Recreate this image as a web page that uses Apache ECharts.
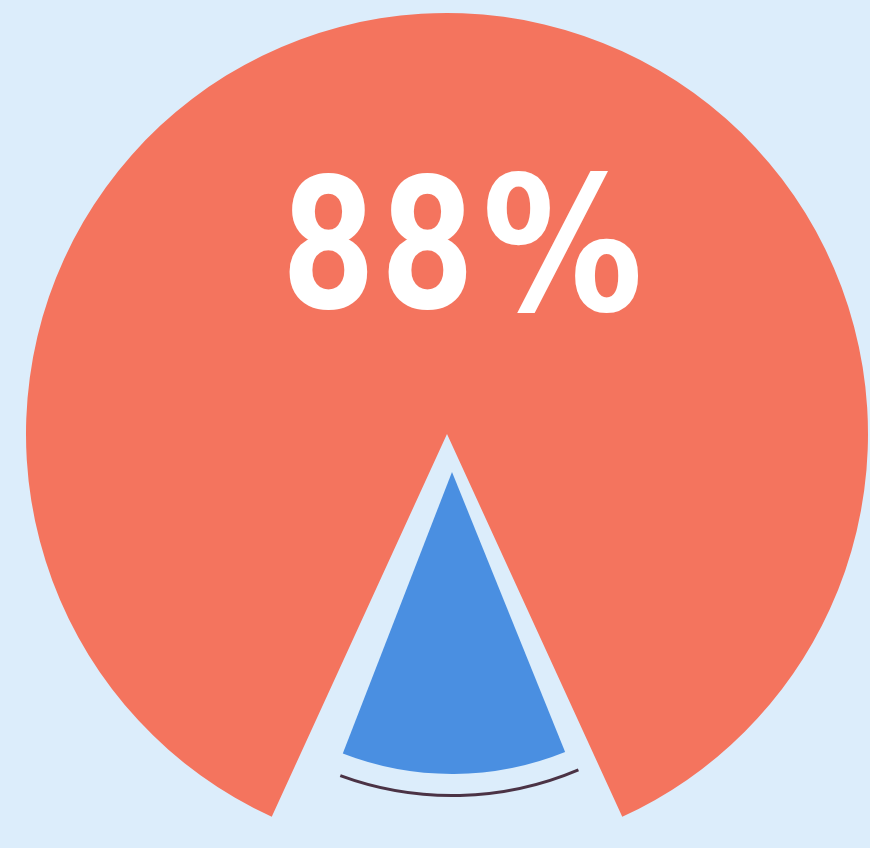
<!DOCTYPE html>
<html>
<head>
<meta charset="utf-8">
<script src="https://cdn.jsdelivr.net/npm/echarts@6/dist/echarts.min.js"></script>
<style>
html,body{margin:0;padding:0;background:#dcedfb;}
#chart{width:870px;height:848px;}
</style>
</head>
<body>
<div id="chart"></div>
<script>
const categories = ['Yes', 'No'];
const shareValues = [88, 12];
const labelNumber = String(shareValues[0]);
const labelUnit = '%';

const chart = echarts.init(document.getElementById('chart'));
const transparent = 'rgba(0,0,0,0)';
const labelRich = labelNumber.split('').map(function (d) { return '{n|' + d + '}'; }).join('') + '{p|' + labelUnit + '}';
const option = {
  backgroundColor: '#dcedfb',
  animation: false,
  series: [
    {
      type: 'pie',
      center: [447, 434],
      radius: [0, 421],
      startAngle: 248.4,
      clockwise: true,
      padAngle: 6,
      silent: true,
      label: { show: false },
      labelLine: { show: false },
      data: [
        { name: categories[0], value: shareValues[0], itemStyle: { color: '#f4745e' } },
        { name: categories[1], value: shareValues[1], itemStyle: { color: transparent } }
      ]
    },
    {
      type: 'pie',
      center: [452, 472],
      radius: [0, 302],
      startAngle: 292,
      clockwise: true,
      silent: true,
      label: { show: false },
      labelLine: { show: false },
      data: [
        { name: categories[1], value: shareValues[1], itemStyle: { color: '#4a8fe1' } },
        { name: categories[0], value: shareValues[0], itemStyle: { color: transparent } }
      ]
    },
    {
      type: 'pie',
      center: [452, 472],
      radius: [322, 325],
      startAngle: 293,
      clockwise: true,
      silent: true,
      label: { show: false },
      labelLine: { show: false },
      data: [
        { name: categories[1], value: shareValues[1], itemStyle: { color: '#4b3345' } },
        { name: categories[0], value: shareValues[0], itemStyle: { color: transparent } }
      ]
    }
  ],
  graphic: [
    {
      type: 'text',
      x: 461,
      y: 255,
      z: 100,
      zlevel: 1,
      scaleX: 0.855,
      originX: 0,
      originY: 0,
      style: {
        text: labelRich,
        fill: '#ffffff',
        align: 'center',
        verticalAlign: 'middle',
        rich: {
          n: {
            fontSize: 188,
            fontWeight: 'bold',
            fontFamily: 'Roboto, "DejaVu Sans", sans-serif',
            color: '#ffffff',
            verticalAlign: 'bottom',
            lineHeight: 200,
            padding: [0, 4, 0, 4]
          },
          p: {
            fontSize: 188,
            fontWeight: 'bold',
            fontFamily: '"DejaVu Sans", Roboto, sans-serif',
            color: '#ffffff',
            verticalAlign: 'bottom',
            lineHeight: 200,
            padding: [0, 0, 0, 6]
          }
        }
      }
    }
  ]
};
chart.setOption(option);
</script>
</body>
</html>
